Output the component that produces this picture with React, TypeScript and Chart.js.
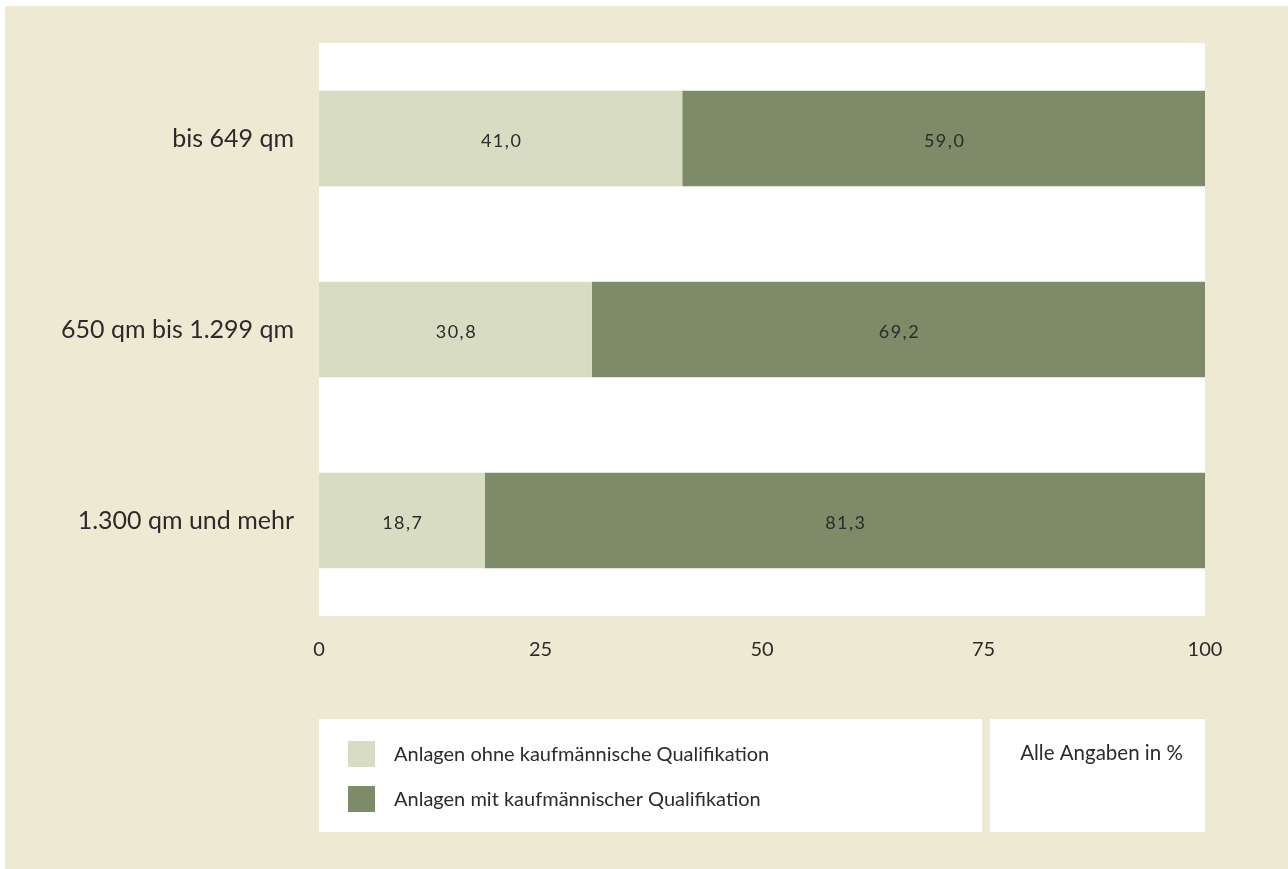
import React, { useEffect, useRef } from "react";
import { Chart, registerables } from "chart.js";

Chart.register(...registerables);

// Floor-area classes (qm) and the share of sites per class, in percent
const categories = ["bis 649 qm", "650 qm bis 1.299 qm", "1.300 qm und mehr"];
const withoutQualification = [41.0, 30.8, 18.7];
const withQualification = [59.0, 69.2, 81.3];
const seriesLabels = [
  "Anlagen ohne kaufmännische Qualifikation",
  "Anlagen mit kaufmännischer Qualifikation",
];
const xTicks = [0, 25, 50, 75, 100];
const noteText = "Alle Angaben in %";

const FONT = 'Lato, "Noto Sans", sans-serif';
const TEXT = "#2b2b2b";
const PAGE_BG = "#EEE9D3";
const LIGHT = "#D8DCC3";
const DARK = "#7E8B69";

const fmt = (v: number) => v.toFixed(1).replace(".", ",");

// Beige page, white plotting field
const backdrop = {
  id: "backdrop",
  beforeDraw(chart: any) {
    const { ctx, chartArea } = chart;
    ctx.save();
    ctx.fillStyle = PAGE_BG;
    ctx.fillRect(5, 6, chart.width - 5, chart.height - 6);
    ctx.fillStyle = "#ffffff";
    ctx.fillRect(
      chartArea.left,
      chartArea.top,
      chartArea.right - chartArea.left,
      chartArea.bottom - chartArea.top
    );
    ctx.restore();
  },
};

// Value labels centred in every bar segment
const segmentLabels = {
  id: "segmentLabels",
  afterDatasetsDraw(chart: any) {
    const { ctx } = chart;
    ctx.save();
    ctx.font = `18px ${FONT}`;
    ctx.fillStyle = TEXT;
    ctx.textAlign = "center";
    ctx.textBaseline = "middle";
    try {
      (ctx as any).letterSpacing = "1.5px";
    } catch (e) {}
    chart.data.datasets.forEach((ds: any, di: number) => {
      const meta = chart.getDatasetMeta(di);
      meta.data.forEach((bar: any, i: number) => {
        const cx = (bar.x + bar.base) / 2 + 1;
        ctx.fillText(fmt(ds.data[i]), cx, bar.y + 3);
      });
    });
    ctx.restore();
  },
};

// Legend panel and note panel below the axis
const legendPanels = {
  id: "legendPanels",
  afterDraw(chart: any) {
    const { ctx, chartArea } = chart;
    const top = 719;
    const h = 113;
    ctx.save();
    ctx.fillStyle = "#ffffff";
    ctx.fillRect(chartArea.left, top, 982 - chartArea.left, h);
    ctx.fillRect(990, top, chartArea.right - 990, h);

    ctx.font = `20px ${FONT}`;
    ctx.textBaseline = "middle";
    ctx.textAlign = "left";
    chart.data.datasets.forEach((ds: any, i: number) => {
      const y = 741 + i * 45;
      ctx.fillStyle = ds.backgroundColor;
      ctx.fillRect(348, y, 27, 26);
      ctx.fillStyle = TEXT;
      ctx.fillText(ds.label, 394, y + 14);
    });

    ctx.font = `20.5px ${FONT}`;
    ctx.textAlign = "center";
    ctx.fillText(noteText, (990 + chartArea.right) / 2 + 4, 753);
    ctx.restore();
  },
};

export default function App() {
  const canvasRef = useRef<HTMLCanvasElement | null>(null);

  useEffect(() => {
    if (!canvasRef.current) return;
    const chart = new Chart(canvasRef.current, {
      type: "bar",
      data: {
        labels: categories,
        datasets: [
          {
            label: seriesLabels[0],
            data: withoutQualification,
            backgroundColor: LIGHT,
            borderWidth: 0,
          },
          {
            label: seriesLabels[1],
            data: withQualification,
            backgroundColor: DARK,
            borderWidth: 0,
          },
        ],
      },
      options: {
        animation: false,
        responsive: false,
        indexAxis: "y",
        datasets: {
          bar: { categoryPercentage: 0.5, barPercentage: 1 },
        },
        layout: { padding: { left: 0, top: 43, right: 83, bottom: 193 } },
        plugins: {
          legend: { display: false },
          tooltip: { enabled: false },
        },
        scales: {
          x: {
            stacked: true,
            min: 0,
            max: 100,
            afterBuildTicks(scale: any) {
              scale.ticks = xTicks.map((v) => ({ value: v }));
            },
            afterFit(scale: any) {
              scale.height = 60;
            },
            grid: { display: false, drawTicks: false },
            border: { display: false },
            ticks: {
              color: TEXT,
              font: { family: FONT, size: 20 },
              padding: 22,
              maxRotation: 0,
            },
          },
          y: {
            stacked: true,
            afterFit(scale: any) {
              scale.width = 319;
            },
            grid: { display: false, drawTicks: false },
            border: { display: false },
            ticks: {
              color: TEXT,
              font: { family: FONT, size: 25 },
              padding: 25,
            },
          },
        },
      },
      plugins: [backdrop, segmentLabels, legendPanels],
    });
    return () => chart.destroy();
  }, []);

  return (
    <div style={{ position: "absolute", left: 0, top: 0, width: 1288, height: 869 }}>
      <canvas ref={canvasRef} width={1288} height={869} style={{ display: "block" }} />
    </div>
  );
}
